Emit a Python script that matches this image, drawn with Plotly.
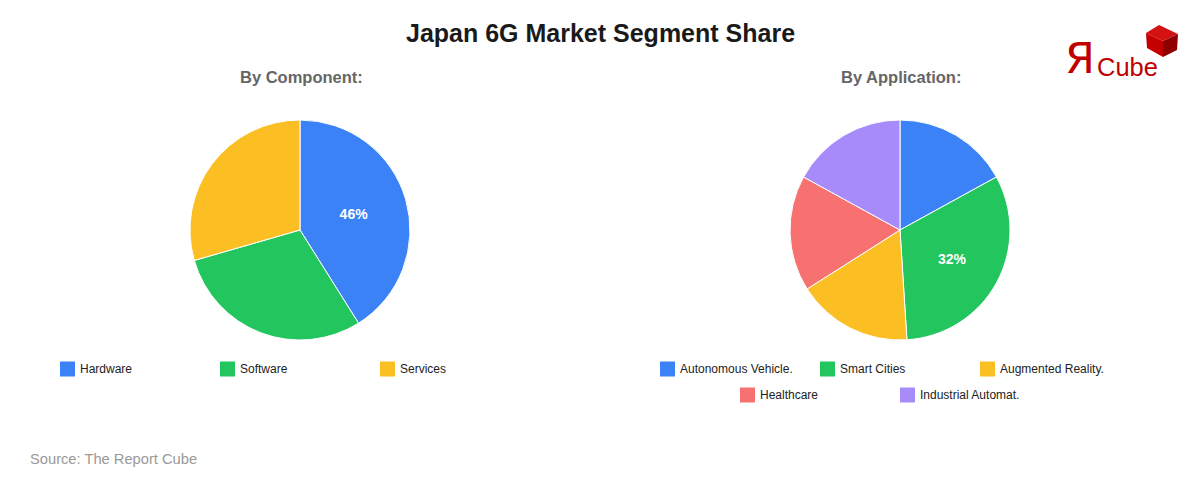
import plotly.graph_objects as go

# ---------------- data ----------------
component_labels = ["Hardware", "Software", "Services"]
component_values = [46, 33, 33]
component_text = ["46%", "", ""]
component_colors = ["#3b82f6", "#22c55e", "#fbbf24"]

application_labels = ["Autonomous Vehicle.", "Smart Cities", "Augmented Reality.",
                      "Healthcare", "Industrial Automat."]
application_values = [17, 32, 17, 17, 17]
application_text = ["", "32%", "", "", ""]
application_colors = ["#3b82f6", "#22c55e", "#fbbf24", "#f87171", "#a78bfa"]

W, H = 1200, 480
OFF = 8  # page body margin offset
FONT = "Liberation Sans, Arial, sans-serif"


def fx(x):
    return (x - OFF) / W


def fy(y):
    return 1 - (y - OFF) / H


fig = go.Figure()

pies = [
    (component_labels, component_values, component_text, component_colors, 300),
    (application_labels, application_values, application_text, application_colors, 900),
]
R = 110
CY = 230
for labels, values, text, colors, cx in pies:
    fig.add_trace(go.Pie(
        labels=labels, values=values, text=text,
        textinfo="text", texttemplate="%{text}",
        textposition="inside", insidetextorientation="horizontal",
        textfont=dict(family=FONT, size=14, color="white", weight="bold"),
        marker=dict(colors=colors, line=dict(color="white", width=1)),
        sort=False, direction="clockwise", rotation=0,
        hoverinfo="label+percent", showlegend=False,
        domain=dict(x=[fx(cx - R), fx(cx + R)], y=[fy(CY + R), fy(CY - R)]),
    ))

shapes = []
annotations = []

# ---------------- custom legends (3 per row, centered under each pie) ----------------
COLW = 160
ROW0 = 369
ROWH = 26
SQ = 15
for labels, values, text, colors, cx in pies:
    n = len(labels)
    for r in range((n + 2) // 3):
        row = list(range(r * 3, min(n, r * 3 + 3)))
        start = cx - len(row) * COLW / 2
        yc = ROW0 + r * ROWH
        for j, i in enumerate(row):
            x0 = start + j * COLW
            shapes.append(dict(type="rect", xref="paper", yref="paper",
                               x0=fx(x0), x1=fx(x0 + SQ), y0=fy(yc + SQ / 2), y1=fy(yc - SQ / 2),
                               fillcolor=colors[i], line=dict(width=0)))
            annotations.append(dict(text=labels[i], xref="paper", yref="paper",
                                    x=fx(x0 + SQ + 3), y=fy(yc), xanchor="left", yanchor="middle",
                                    showarrow=False,
                                    font=dict(family=FONT, size=12, color="#222222")))

# ---------------- titles ----------------
annotations.append(dict(text="<b>Japan 6G Market Segment Share</b>", xref="paper", yref="paper",
                        x=fx(600), y=fy(33), xanchor="center", yanchor="middle", showarrow=False,
                        font=dict(family=FONT, size=25, color="#1a1a1a")))
annotations.append(dict(text="<b>By Component:</b>", xref="paper", yref="paper",
                        x=fx(301), y=fy(77), xanchor="center", yanchor="middle", showarrow=False,
                        font=dict(family=FONT, size=16.5, color="#666666")))
annotations.append(dict(text="<b>By Application:</b>", xref="paper", yref="paper",
                        x=fx(901), y=fy(77), xanchor="center", yanchor="middle", showarrow=False,
                        font=dict(family=FONT, size=16.5, color="#666666")))
annotations.append(dict(text="Source: The Report Cube", xref="paper", yref="paper",
                        x=fx(28), y=fy(459), xanchor="left", yanchor="middle", showarrow=False,
                        font=dict(family=FONT, size=14.7, color="#999999")))

# ---------------- logo ----------------
annotations.append(dict(text="Я", xref="paper", yref="paper",
                        x=fx(1063), y=fy(58), xanchor="left", yanchor="middle", showarrow=False,
                        font=dict(family="DejaVu Sans, sans-serif", size=43, color="#c00000")))
annotations.append(dict(text="Cube", xref="paper", yref="paper",
                        x=fx(1095), y=fy(67), xanchor="left", yanchor="middle", showarrow=False,
                        font=dict(family=FONT, size=25.5, color="#c00000")))


def path(pts):
    return "M " + " L ".join(f"{fx(x):.5f},{fy(y):.5f}" for x, y in pts) + " Z"


top = (1159, 25)
rt = (1178, 34)
rb = (1177, 50)
bot = (1163, 57)
lb = (1147, 48)
lt = (1146, 33)
ctr = (1163, 41)
for pts, col in [([top, rt, ctr, lt], "#d41212"), ([lt, ctr, bot, lb], "#c40000"),
                 ([ctr, rt, rb, bot], "#8e0000")]:
    shapes.append(dict(type="path", xref="paper", yref="paper", path=path(pts),
                       fillcolor=col, line=dict(width=0)))

fig.update_layout(
    width=W, height=H,
    margin=dict(l=0, r=0, t=0, b=0),
    paper_bgcolor="white", plot_bgcolor="white",
    shapes=shapes, annotations=annotations,
    font=dict(family=FONT),
)

fig.write_html("out.html")
